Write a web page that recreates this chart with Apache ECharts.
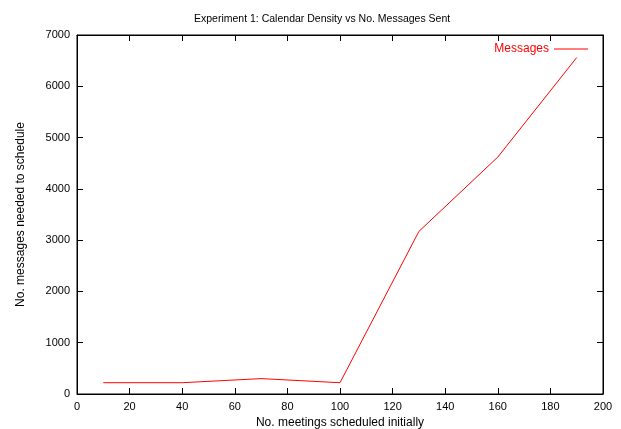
<!DOCTYPE html>
<html><head><meta charset="utf-8">
<script src="https://cdn.jsdelivr.net/npm/echarts@6/dist/echarts.min.js"></script>
<style>html,body{margin:0;padding:0;background:#fff;overflow:hidden}#c{width:621px;height:429px}</style>
</head><body><div id="c"></div>
<script>
const meetings = [10, 40, 70, 100, 130, 160, 190];
const messages = [220, 220, 300, 220, 3170, 4620, 6560];
const xTicks = [0, 200, 20];
const yTicks = [0, 7000, 1000];
const FONT = 'Liberation Sans';
const chart = echarts.init(document.getElementById('c'), null, {renderer: 'canvas', width: 621, height: 429});
const tickStyle = () => ({show: true, inside: true, length: 6, lineStyle: {color: '#000', width: 1}});
const lineStyle = () => ({show: true, onZero: false, lineStyle: {color: '#000', width: 1}});
chart.setOption({
  animation: false,
  title: {text: 'Experiment 1: Calendar Density vs No. Messages Sent', left: 189, top: 9,
    textStyle: {fontFamily: FONT, fontSize: 10.5, fontWeight: 'normal', color: '#000'}},
  legend: {right: 28, top: 38, align: 'right', itemWidth: 34, itemHeight: 1, itemGap: 7,
    icon: 'rect', textStyle: {fontFamily: FONT, fontSize: 12, color: '#ff0000'},
    data: ['Messages']},
  grid: {left: 77, right: 18, top: 35, bottom: 35, containLabel: false, outerBoundsMode: 'none',
    show: true, borderColor: '#000', borderWidth: 1, backgroundColor: 'transparent'},
  xAxis: [
    {type: 'value', min: xTicks[0], max: xTicks[1], interval: xTicks[2], position: 'bottom',
     name: 'No. meetings scheduled initially', nameLocation: 'middle', nameGap: 21,
     nameTextStyle: {fontFamily: FONT, fontSize: 12, color: '#000'},
     axisLine: lineStyle(), axisTick: tickStyle(), splitLine: {show: false},
     axisLabel: {fontFamily: FONT, fontSize: 11, color: '#000', margin: 7}},
    {type: 'value', min: xTicks[0], max: xTicks[1], interval: xTicks[2], position: 'top',
     axisLine: lineStyle(), axisTick: tickStyle(), splitLine: {show: false}, axisLabel: {show: false}}
  ],
  yAxis: [
    {type: 'value', min: yTicks[0], max: yTicks[1], interval: yTicks[2], position: 'left',
     name: 'No. messages needed to schedule', nameLocation: 'middle', nameGap: 50,
     nameTextStyle: {fontFamily: FONT, fontSize: 12, color: '#000'},
     axisLine: lineStyle(), axisTick: tickStyle(), splitLine: {show: false},
     axisLabel: {fontFamily: FONT, fontSize: 11, color: '#000', margin: 7,
       formatter: v => String(v)}},
    {type: 'value', min: yTicks[0], max: yTicks[1], interval: yTicks[2], position: 'right',
     axisLine: lineStyle(), axisTick: tickStyle(), splitLine: {show: false}, axisLabel: {show: false}}
  ],
  series: [{
    name: 'Messages', type: 'line', data: meetings.map((m, i) => [m, messages[i]]),
    showSymbol: false, symbol: 'none', color: '#ff0000',
    lineStyle: {color: '#ff0000', width: 1}, itemStyle: {color: '#ff0000'}
  }]
});
</script></body></html>
